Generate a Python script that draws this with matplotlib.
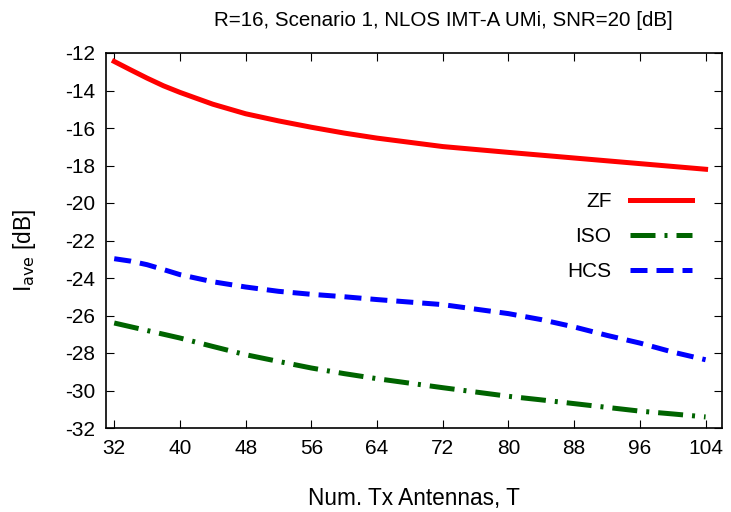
import matplotlib
matplotlib.use("Agg")
import matplotlib.pyplot as plt

plt.rcParams['font.family'] = ['Liberation Sans', 'DejaVu Sans']
plt.rcParams['axes.unicode_minus'] = False

# data
antennas = [32, 34, 36, 38, 40, 44, 48, 52, 56, 60, 64, 72, 80, 84, 88, 92, 96, 100, 104]
zf = [-12.45, -12.9, -13.34, -13.75, -14.1, -14.73, -15.24, -15.62, -15.96, -16.27, -16.54,
      -16.99, -17.3, -17.45, -17.6, -17.75, -17.9, -18.05, -18.2]
iso = [-26.4, -26.6, -26.8, -27.0, -27.2, -27.65, -28.09, -28.45, -28.8, -29.1, -29.37,
       -29.85, -30.31, -30.5, -30.7, -30.9, -31.1, -31.25, -31.41]
hcs = [-22.97, -23.1, -23.29, -23.55, -23.82, -24.2, -24.48, -24.71, -24.87, -25.0, -25.15,
       -25.42, -25.9, -26.22, -26.61, -27.06, -27.47, -27.95, -28.36]

xticks = [32, 40, 48, 56, 64, 72, 80, 88, 96, 104]
yticks = list(range(-32, -11, 2))

fig = plt.figure(figsize=(7.31, 5.12), dpi=100)
ax = fig.add_axes([106 / 731, 1 - 428 / 512, (722 - 106) / 731, (428 - 53) / 512])

ax.plot(antennas, zf, color='#ff0000', lw=3.6, ls='-', label='ZF')
ax.plot(antennas, iso, color='#006400', lw=3.6, ls=(0, (5, 1.8, 0.6, 1.8)), label='ISO')
ax.plot(antennas, hcs, color='#0000ff', lw=3.6, ls=(0, (3.4, 1.8)), label='HCS')

ax.set_xlim(31, 106)
ax.set_ylim(-32, -12)
ax.set_xticks(xticks)
ax.set_yticks(yticks)
ax.tick_params(direction='in', top=True, right=True, labelsize=15, length=6, pad=8)
for s in ax.spines.values():
    s.set_linewidth(1.2)

# title sits centred on the canvas region used by gnuplot, slightly right of the axes
fig.text(443 / 731, 1 - 21 / 512, 'R=16, Scenario 1, NLOS IMT-A UMi, SNR=20 [dB]',
         fontsize=14.8, ha='center', va='center')
ax.set_xlabel('Num. Tx Antennas, T', fontsize=16.3)
ax.xaxis.set_label_coords(0.5, -(498 - 428) / 375, transform=ax.transAxes)
ax.xaxis.label.set_va('center')
ax.set_ylabel('I$_{\\rm ave}$ [dB]', fontsize=16.3)
ax.yaxis.set_label_coords(-(106 - 25) / 616, (428 - 251) / 375, transform=ax.transAxes)
ax.yaxis.label.set_va('center')

ax.legend(loc='center right', bbox_to_anchor=(0.982, 0.51), frameon=False, markerfirst=False,
          fontsize=15, handlelength=3.0, labelspacing=0.77, handletextpad=0.87)

fig.savefig('out.png', dpi=100)
